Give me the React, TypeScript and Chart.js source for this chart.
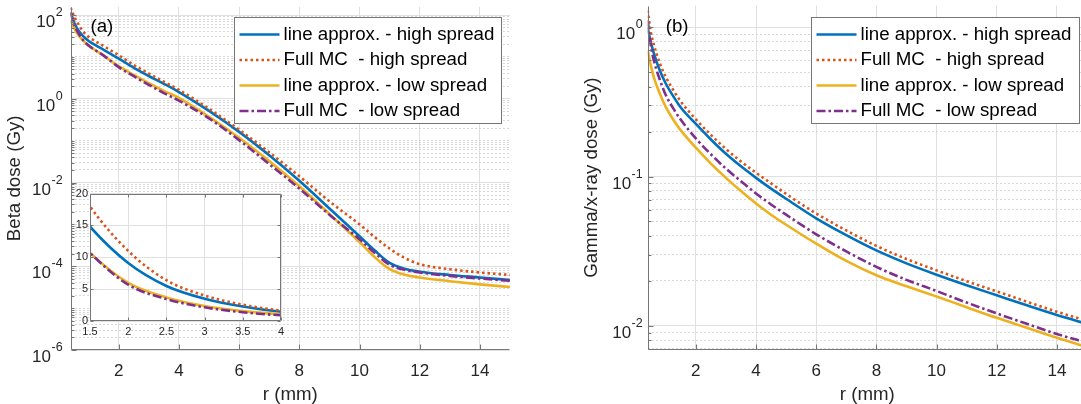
import React, { useEffect, useRef } from 'react';
import { Chart, registerables } from 'chart.js';

Chart.register(...registerables);

// ---------------- data ----------------
const LEGEND_LABELS = [
  'line approx. - high spread',
  'Full MC  - high spread',
  'line approx. - low spread',
  'Full MC  - low spread',
];
const SERIES_COLORS = ['#0072BD', '#D95319', '#EDB120', '#7E2F8E'];
const SERIES_DASH: number[][] = [[], [2.5, 3], [], [9, 3, 2.5, 3]];

// panel (a): beta dose (Gy) vs r (mm)
const R_BETA = [0.4, 0.5, 0.6, 0.8, 1.0, 1.25, 1.5, 2.0, 2.5, 3.0, 3.5, 4.0, 5.0, 6.0, 7.0, 8.0, 9.0, 10.0, 10.5, 11.0, 11.5, 12.0, 13.0, 14.0, 15.0];
const BETA_LINE_HIGH = [115, 71, 50, 32, 24, 18.6, 14.8, 9.1, 5.5, 3.5, 2.28, 1.45, 0.513, 0.162, 0.0447, 0.011, 0.0024, 5.2e-4, 2.4e-4, 1.2e-4, 8.7e-5, 7.4e-5, 6.2e-5, 5.4e-5, 4.7e-5];
const BETA_MC_HIGH = [150, 100, 71, 42, 30, 23, 18, 11, 6.4, 4.0, 2.55, 1.64, 0.575, 0.182, 0.0525, 0.0141, 0.00355, 1.0e-3, 5.0e-4, 2.63e-4, 1.58e-4, 1.12e-4, 8.5e-5, 7.1e-5, 6.2e-5];
const BETA_LINE_LOW = [75, 52, 38, 25, 18.6, 14, 10.7, 6.0, 3.7, 2.35, 1.55, 1.05, 0.37, 0.117, 0.0324, 0.0081, 0.00178, 3.8e-4, 1.66e-4, 8.5e-5, 6.3e-5, 5.4e-5, 4.4e-5, 3.7e-5, 3.2e-5];
const BETA_MC_LOW = [118, 66, 44, 26, 18.6, 14, 10.7, 5.7, 3.45, 2.15, 1.37, 0.9, 0.34, 0.103, 0.0275, 0.0072, 0.0017, 4.4e-4, 2.1e-4, 1.08e-4, 8.2e-5, 7.1e-5, 5.9e-5, 5.1e-5, 4.5e-5];

// panel (b): gamma/x-ray dose (Gy) vs r (mm)
const R_GAMMA = [0.4, 0.5, 0.6, 0.8, 1.0, 1.25, 1.5, 2.0, 2.5, 3.0, 3.5, 4.0, 4.5, 5.0, 6.0, 7.0, 8.0, 9.0, 10.0, 11.0, 12.0, 13.0, 14.0, 15.0];
const GAMMA_LINE_HIGH = [0.99, 0.8, 0.675, 0.515, 0.42, 0.345, 0.29, 0.225, 0.177, 0.142, 0.117, 0.098, 0.083, 0.071, 0.0525, 0.0405, 0.032, 0.0262, 0.022, 0.0187, 0.016, 0.0137, 0.0118, 0.0103];
const GAMMA_MC_HIGH = [1.3, 0.94, 0.77, 0.575, 0.465, 0.38, 0.318, 0.242, 0.19, 0.153, 0.126, 0.106, 0.09, 0.0765, 0.0565, 0.0435, 0.0343, 0.028, 0.0235, 0.0199, 0.017, 0.0145, 0.0124, 0.0108];
const GAMMA_LINE_LOW = [0.7, 0.56, 0.465, 0.36, 0.293, 0.24, 0.204, 0.156, 0.122, 0.098, 0.08, 0.066, 0.0555, 0.0475, 0.0355, 0.0272, 0.0218, 0.0184, 0.0157, 0.0133, 0.0113, 0.0097, 0.0083, 0.0072];
const GAMMA_MC_LOW = [1.12, 0.76, 0.605, 0.447, 0.352, 0.286, 0.24, 0.18, 0.141, 0.113, 0.093, 0.077, 0.065, 0.0555, 0.041, 0.0315, 0.0248, 0.0203, 0.0171, 0.0143, 0.0121, 0.0103, 0.0088, 0.0077];

// axes
const R_MIN = 0.4;
const R_MAX = 15;
const X_TICKS = [2, 4, 6, 8, 10, 12, 14];
const A_Y_MIN = 1e-6;
const A_Y_MAX = 158;
const A_Y_LABEL_EXPS = [-6, -4, -2, 0, 2];
const B_Y_MIN = 0.0069;
const B_Y_MAX = 1.4;
const B_Y_LABEL_EXPS = [-2, -1, 0];
const INSET_X_MIN = 1.5;
const INSET_X_MAX = 4;
const INSET_X_TICKS = [1.5, 2, 2.5, 3, 3.5, 4];
const INSET_Y_MIN = 0;
const INSET_Y_MAX = 20;
const INSET_Y_TICKS = [0, 5, 10, 15, 20];

// ---------------- style ----------------
const FONT = "'Liberation Sans', Arial, Helvetica, sans-serif";
const TEXT = '#262626';
const AXIS = '#767676';
const GRID_MAJOR = '#e0e0e0';
const GRID_MINOR = '#d8d8d8';
const LINE_W = 2.6;

function logTickValues(min: number, max: number): number[] {
  const out: number[] = [];
  const e0 = Math.floor(Math.log10(min));
  const e1 = Math.ceil(Math.log10(max));
  for (let e = e0; e <= e1; e++) {
    for (let m = 1; m <= 9; m++) {
      const v = m * Math.pow(10, e);
      if (v >= min * 0.9999 && v <= max * 1.0001) out.push(v);
    }
  }
  return out;
}

function isLabeledDecade(v: number | undefined, exps: number[]): boolean {
  if (v === undefined || v <= 0) return false;
  const l = Math.log10(v);
  const r = Math.round(l);
  return Math.abs(l - r) < 1e-6 && exps.includes(r);
}

function makeDatasets(r: number[], series: number[][], lw: number) {
  return series.map((vals, i) => ({
    label: LEGEND_LABELS[i],
    data: r.map((x, j) => ({ x, y: vals[j] })),
    borderColor: SERIES_COLORS[i],
    backgroundColor: SERIES_COLORS[i],
    borderDash: SERIES_DASH[i],
    borderWidth: lw,
    borderCapStyle: 'butt',
    pointRadius: 0,
    fill: false,
    cubicInterpolationMode: 'monotone',
    order: series.length - i,
    clip: 0,
  }));
}

function linX(min: number, max: number, ticks: number[], height: number, labelPad: number, fontSize: number, title?: string) {
  return {
    type: 'linear',
    position: 'bottom',
    min,
    max,
    afterBuildTicks: (s: any) => {
      s.ticks = ticks.map((v) => ({ value: v }));
    },
    afterFit: (s: any) => {
      s.height = height;
    },
    ticks: {
      autoSkip: false,
      maxRotation: 0,
      minRotation: 0,
      padding: labelPad,
      color: TEXT,
      font: { family: FONT, size: fontSize },
      callback: (v: any) => String(v),
    },
    grid: { color: GRID_MAJOR, lineWidth: 1, drawTicks: false },
    border: { display: false },
    title: title
      ? {
          display: true,
          text: title,
          color: TEXT,
          font: { family: FONT, size: 18.7, lineHeight: 1 },
          padding: { top: 0, bottom: 0 },
        }
      : { display: false },
  };
}

function logY(min: number, max: number, exps: number[], width: number, title: string, titlePad: number) {
  return {
    type: 'logarithmic',
    position: 'left',
    min,
    max,
    afterBuildTicks: (s: any) => {
      s.ticks = logTickValues(min, max).map((v) => ({ value: v }));
    },
    afterFit: (s: any) => {
      s.width = width;
    },
    ticks: { display: false, autoSkip: false },
    grid: {
      color: (c: any) => (isLabeledDecade(c.tick?.value, exps) ? GRID_MAJOR : GRID_MINOR),
      lineWidth: 1,
      drawTicks: false,
    },
    border: {
      display: false,
      dash: (c: any) => (c.tick && !isLabeledDecade(c.tick.value, exps) ? [2, 2] : []),
    },
    title: {
      display: true,
      text: title,
      color: TEXT,
      font: { family: FONT, size: 18.7, lineHeight: 1 },
      padding: { top: titlePad, bottom: 0 },
    },
  };
}

type DecoCfg = {
  box: boolean;
  tickLen: number;
  minorTickLen: number;
  isMajorY: (v: number) => boolean;
  background?: string;
  supExps?: number[];
  supGap?: number;
  legend?: { rightGap: number; topGap: number; w: number; h: number };
  letter?: { text: string; x: number; y: number };
};

function makeDeco(cfg: DecoCfg) {
  return {
    id: 'deco',
    beforeDraw(chart: any) {
      if (!cfg.background) return;
      const { ctx, chartArea: ca } = chart;
      ctx.save();
      ctx.fillStyle = cfg.background;
      ctx.fillRect(ca.left, ca.top, ca.right - ca.left, ca.bottom - ca.top);
      ctx.restore();
    },
    afterDraw(chart: any) {
      const { ctx, chartArea: ca } = chart;
      const xs = chart.scales.x;
      const ys = chart.scales.y;
      ctx.save();
      ctx.setLineDash([]);
      ctx.strokeStyle = AXIS;
      ctx.lineWidth = 1;
      const L = Math.round(ca.left) + 0.5;
      const R = Math.round(ca.right) - 0.5;
      const T = Math.round(ca.top) + 0.5;
      const B = Math.round(ca.bottom) - 0.5;
      // inward tick marks
      ctx.beginPath();
      for (const t of xs.ticks) {
        const p = Math.round(xs.getPixelForValue(t.value)) + 0.5;
        ctx.moveTo(p, B);
        ctx.lineTo(p, B - cfg.tickLen);
        if (cfg.box) {
          ctx.moveTo(p, T);
          ctx.lineTo(p, T + cfg.tickLen);
        }
      }
      for (const t of ys.ticks) {
        const p = Math.round(ys.getPixelForValue(t.value)) + 0.5;
        const len = cfg.isMajorY(t.value) ? cfg.tickLen : cfg.minorTickLen;
        ctx.moveTo(L, p);
        ctx.lineTo(L + len, p);
        if (cfg.box) {
          ctx.moveTo(R, p);
          ctx.lineTo(R - len, p);
        }
      }
      ctx.stroke();
      // axis lines
      ctx.beginPath();
      ctx.moveTo(L, T);
      ctx.lineTo(L, B);
      ctx.lineTo(R, B);
      if (cfg.box) {
        ctx.lineTo(R, T);
        ctx.closePath();
      }
      ctx.stroke();

      // 10^n tick labels
      if (cfg.supExps) {
        ctx.fillStyle = TEXT;
        ctx.textAlign = 'left';
        ctx.textBaseline = 'alphabetic';
        for (const e of cfg.supExps) {
          const p = ys.getPixelForValue(Math.pow(10, e));
          const es = String(e);
          ctx.font = `12.5px ${FONT}`;
          const we = ctx.measureText(es).width;
          ctx.font = `17px ${FONT}`;
          const wb = ctx.measureText('10').width;
          const right = ca.left - (cfg.supGap ?? 6);
          ctx.fillText('10', right - we - wb - 0.5, p + 12);
          ctx.font = `12.5px ${FONT}`;
          ctx.fillText(es, right - we, p + 1);
        }
      }

      // legend
      if (cfg.legend) {
        const lg = cfg.legend;
        const bx = Math.round(ca.right - lg.rightGap - lg.w) + 0.5;
        const by = Math.round(ca.top + lg.topGap) + 0.5;
        ctx.fillStyle = '#ffffff';
        ctx.fillRect(bx, by, lg.w, lg.h);
        ctx.strokeStyle = AXIS;
        ctx.lineWidth = 1;
        ctx.strokeRect(bx, by, lg.w, lg.h);
        const dsets = chart.data.datasets;
        dsets.forEach((ds: any, i: number) => {
          const y = by + 17 + i * 25.5;
          ctx.strokeStyle = ds.borderColor;
          ctx.lineWidth = ds.borderWidth;
          ctx.lineCap = 'butt';
          ctx.setLineDash(ds.borderDash || []);
          ctx.beginPath();
          ctx.moveTo(bx + 5, y);
          ctx.lineTo(bx + 45, y);
          ctx.stroke();
          ctx.setLineDash([]);
          ctx.fillStyle = '#000000';
          ctx.font = `18.7px ${FONT}`;
          ctx.textAlign = 'left';
          ctx.textBaseline = 'middle';
          ctx.fillText(ds.label, bx + 49, y);
        });
      }

      // panel letter
      if (cfg.letter) {
        ctx.fillStyle = '#000000';
        ctx.font = `18.7px ${FONT}`;
        ctx.textAlign = 'left';
        ctx.textBaseline = 'alphabetic';
        ctx.fillText(cfg.letter.text, cfg.letter.x, cfg.letter.y);
      }
      ctx.restore();
    },
  };
}

function baseOptions(padding: any) {
  return {
    responsive: false,
    maintainAspectRatio: false,
    animation: false,
    devicePixelRatio: 1,
    events: [],
    layout: { padding },
    plugins: { legend: { display: false }, tooltip: { enabled: false }, title: { display: false } },
  };
}

export default function App() {
  const aRef = useRef<HTMLCanvasElement>(null);
  const bRef = useRef<HTMLCanvasElement>(null);
  const iRef = useRef<HTMLCanvasElement>(null);

  useEffect(() => {
    const charts: Chart[] = [];
    const betaSeries = [BETA_LINE_HIGH, BETA_MC_HIGH, BETA_LINE_LOW, BETA_MC_LOW];
    const gammaSeries = [GAMMA_LINE_HIGH, GAMMA_MC_HIGH, GAMMA_LINE_LOW, GAMMA_MC_LOW];

    if (aRef.current) {
      charts.push(
        new Chart(aRef.current, {
          type: 'line',
          data: { datasets: makeDatasets(R_BETA, betaSeries, LINE_W) as any },
          options: {
            ...baseOptions({ left: 0, top: 6.7, right: 30, bottom: 0 }),
            scales: {
              x: linX(R_MIN, R_MAX, X_TICKS, 54, 11.2, 17, 'r (mm)') as any,
              y: logY(A_Y_MIN, A_Y_MAX, A_Y_LABEL_EXPS, 70.6, 'Beta dose (Gy)', 5.3) as any,
            },
          } as any,
          plugins: [
            makeDeco({
              box: false,
              tickLen: 5,
              minorTickLen: 3,
              isMajorY: (v) => isLabeledDecade(v, A_Y_LABEL_EXPS),
              supExps: A_Y_LABEL_EXPS,
              supGap: 8,
              legend: { rightGap: 9, topGap: 10, w: 267, h: 106 },
              letter: { text: '(a)', x: 90.5, y: 32 },
            }) as any,
          ],
        })
      );
    }

    if (bRef.current) {
      charts.push(
        new Chart(bRef.current, {
          type: 'line',
          data: { datasets: makeDatasets(R_GAMMA, gammaSeries, LINE_W) as any },
          options: {
            ...baseOptions({ left: 0, top: 5.5, right: 13, bottom: 0 }),
            scales: {
              x: linX(R_MIN, R_MAX, X_TICKS, 54.2, 11.2, 17, 'r (mm)') as any,
              y: logY(B_Y_MIN, B_Y_MAX, B_Y_LABEL_EXPS, 107.7, 'Gamma/x-ray dose (Gy)', 42.6) as any,
            },
          } as any,
          plugins: [
            makeDeco({
              box: false,
              tickLen: 5,
              minorTickLen: 3,
              isMajorY: (v) => isLabeledDecade(v, B_Y_LABEL_EXPS),
              supExps: B_Y_LABEL_EXPS,
              supGap: 5,
              legend: { rightGap: 8, topGap: 11.5, w: 268, h: 106 },
              letter: { text: '(b)', x: 125.7, y: 32 },
            }) as any,
          ],
        })
      );
    }

    if (iRef.current) {
      charts.push(
        new Chart(iRef.current, {
          type: 'line',
          data: { datasets: makeDatasets(R_BETA, betaSeries, LINE_W) as any },
          options: {
            ...baseOptions({ left: 0, top: 8.3, right: 9, bottom: 0 }),
            scales: {
              x: linX(INSET_X_MIN, INSET_X_MAX, INSET_X_TICKS, 24, 4.7, 11) as any,
              y: {
                type: 'linear',
                position: 'left',
                min: INSET_Y_MIN,
                max: INSET_Y_MAX,
                afterBuildTicks: (s: any) => {
                  s.ticks = INSET_Y_TICKS.map((v) => ({ value: v }));
                },
                afterFit: (s: any) => {
                  s.width = 30;
                },
                ticks: {
                  autoSkip: false,
                  padding: 2,
                  color: TEXT,
                  font: { family: FONT, size: 11 },
                  callback: (v: any) => String(v),
                },
                grid: { color: GRID_MAJOR, lineWidth: 1, drawTicks: false },
                border: { display: false },
              } as any,
            },
          } as any,
          plugins: [
            makeDeco({
              box: true,
              tickLen: 3,
              minorTickLen: 3,
              isMajorY: () => true,
              background: '#ffffff',
            }) as any,
          ],
        })
      );
    }

    return () => {
      charts.forEach((c) => c.destroy());
    };
  }, []);

  return (
    <div
      style={{
        position: 'absolute',
        left: 0,
        top: 0,
        width: 1081,
        height: 404,
        overflow: 'hidden',
        background: '#ffffff',
      }}
    >
      <canvas ref={aRef} width={540} height={404} style={{ position: 'absolute', left: 0, top: 0 }} />
      <canvas ref={bRef} width={560} height={404} style={{ position: 'absolute', left: 540, top: 0 }} />
      <canvas ref={iRef} width={230} height={160} style={{ position: 'absolute', left: 60, top: 185 }} />
    </div>
  );
}
